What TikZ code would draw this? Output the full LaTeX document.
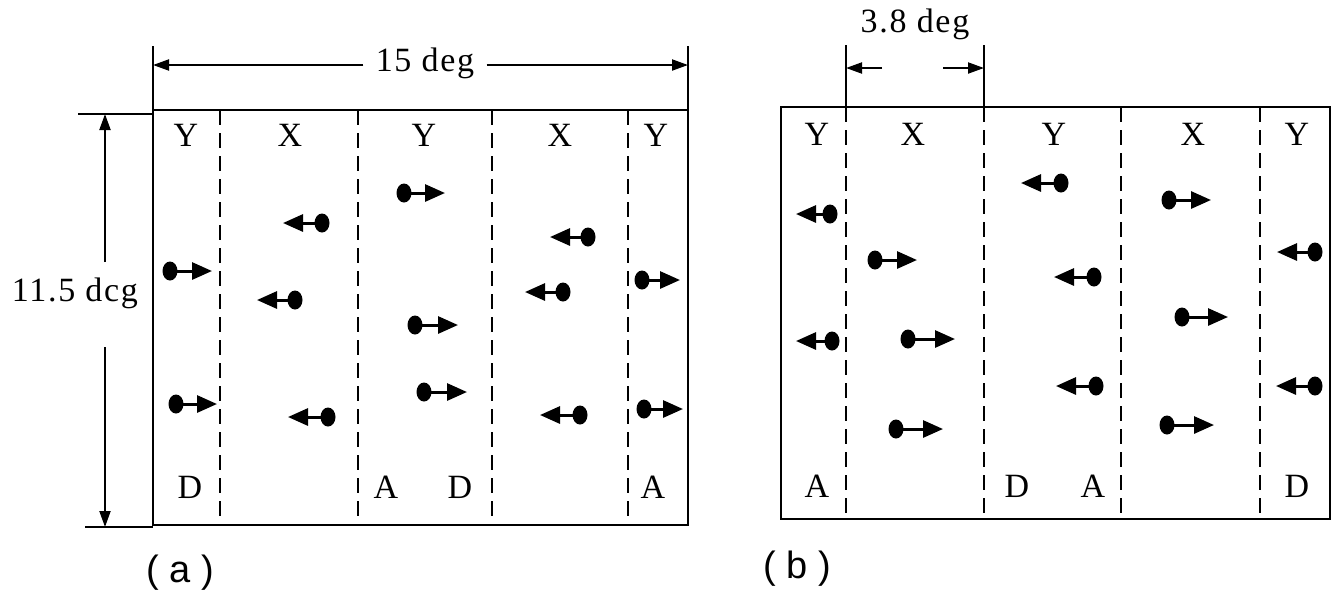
\documentclass[tikz,border=0pt]{standalone}
\usepackage{fontspec}
\setmainfont{Liberation Serif}[LetterSpace=5]
\setsansfont{Liberation Sans}
\usetikzlibrary{arrows.meta,shapes.geometric}
\newcommand{\dumb}[4]{\node[dot] (#1) at (#2,#4) {};\coordinate (#1t) at (#3,#4);\draw[dbl] (#1.center) -- (#1t);}
\begin{document}
\begin{tikzpicture}[x=0.5pt,y=-0.5pt,
  box/.style={line width=1.4pt},
  divider/.style={line width=1.3pt, dash pattern=on 7.5pt off 4pt},
  dim/.style={line width=1pt},
  dimtip/.style={-{Triangle[length=8pt,width=5.5pt]}},
  lbl/.style={font=\fontsize{17}{17}\selectfont, inner sep=0pt},
  panel/.style={font=\sffamily\fontsize{19}{19}\selectfont, inner sep=0pt},
  dot/.style={ellipse, fill, inner sep=0pt, minimum width=7.5pt, minimum height=9.5pt},
  dbl/.style={line width=1.5pt,-{Triangle[length=10pt,width=8.5pt]}}
]
\useasboundingbox (0,0) rectangle (1338,591);
% ---------- panel (a) ----------
\draw[box] (153,110) rectangle (688,525);
\foreach \x in {220,358,492,628} \draw[divider] (\x,110) -- (\x,525);
\draw[dim] (153,46) -- (153,110);
\draw[dim] (688,46) -- (688,110);
\node[lbl, fill=white, inner xsep=6pt, inner ysep=2pt] (w15) at (425,63) {15 deg};
\coordinate (a15L) at (153,65); \coordinate (a15R) at (688,65);
\draw[dim,dimtip] (w15.west |- a15L) -- (a15L);
\draw[dim,dimtip] (w15.east |- a15R) -- (a15R);
\draw[dim] (78,114) -- (153,114);
\draw[dim] (85,527) -- (153,527);
\node[lbl] (h115) at (75,293) {11.5 dcg};
\coordinate (vTop) at (105,114); \coordinate (vBot) at (105,527);
\coordinate (vA) at (105,262); \coordinate (vB) at (105,347);
\draw[dim,dimtip] (vA) -- (vTop);
\draw[dim,dimtip] (vB) -- (vBot);
% labels
\node[lbl] (aY1) at (186,135) {Y};
\node[lbl] (aX1) at (290,135) {X};
\node[lbl] (aY2) at (424,135) {Y};
\node[lbl] (aX2) at (560,135) {X};
\node[lbl] (aY3) at (656,135) {Y};
\node[lbl] (aD1) at (190,487) {D};
\node[lbl] (aA1) at (386,487) {A};
\node[lbl] (aD2) at (460,487) {D};
\node[lbl] (aA2) at (653,487) {A};
% dumbbells: name, dot x, tip x, y
\dumb{a1}{170}{212}{271}
\dumb{a2}{176}{217}{404}
\dumb{a3}{322}{283}{223}
\dumb{a4}{295}{257}{300}
\dumb{a5}{328}{288}{417}
\dumb{a6}{404}{445}{193}
\dumb{a7}{415}{458}{325}
\dumb{a8}{424}{467}{392}
\dumb{a9}{588}{550}{237}
\dumb{a10}{563}{525}{292}
\dumb{a11}{580}{540}{415}
\dumb{a12}{642}{680}{280}
\dumb{a13}{644}{683}{409}
\node[panel] (pa) at (180,573) {( a )};
% ---------- panel (b) ----------
\draw[box] (781,107) rectangle (1330,519);
\foreach \x in {846,984,1121,1260} \draw[divider] (\x,107) -- (\x,519);
\draw[dim] (846,45) -- (846,107);
\draw[dim] (984,45) -- (984,107);
\node[lbl] (w38) at (915,24) {3.8 deg};
\coordinate (b38L) at (846,68); \coordinate (b38R) at (984,68);
\coordinate (b38a) at (882,68); \coordinate (b38b) at (943,68);
\draw[dim,dimtip] (b38a) -- (b38L);
\draw[dim,dimtip] (b38b) -- (b38R);
\node[lbl] (bY1) at (817,134) {Y};
\node[lbl] (bX1) at (913,134) {X};
\node[lbl] (bY2) at (1054,134) {Y};
\node[lbl] (bX2) at (1193,134) {X};
\node[lbl] (bY3) at (1297,134) {Y};
\node[lbl] (bA1) at (817,486) {A};
\node[lbl] (bD1) at (1017,486) {D};
\node[lbl] (bA2) at (1093,486) {A};
\node[lbl] (bD2) at (1297,486) {D};
\dumb{b1}{830}{796}{214}
\dumb{b2}{875}{917}{260}
\dumb{b3}{832}{796}{341}
\dumb{b4}{908}{955}{339}
\dumb{b5}{896}{943}{429}
\dumb{b6}{1061}{1021}{183}
\dumb{b7}{1094}{1054}{277}
\dumb{b8}{1096}{1056}{386}
\dumb{b9}{1169}{1211}{200}
\dumb{b10}{1182}{1228}{317}
\dumb{b11}{1167}{1214}{425}
\dumb{b12}{1315}{1277}{252}
\dumb{b13}{1315}{1276}{386}
\node[panel] (pb) at (797,569) {( b )};
\end{tikzpicture}
\end{document}
